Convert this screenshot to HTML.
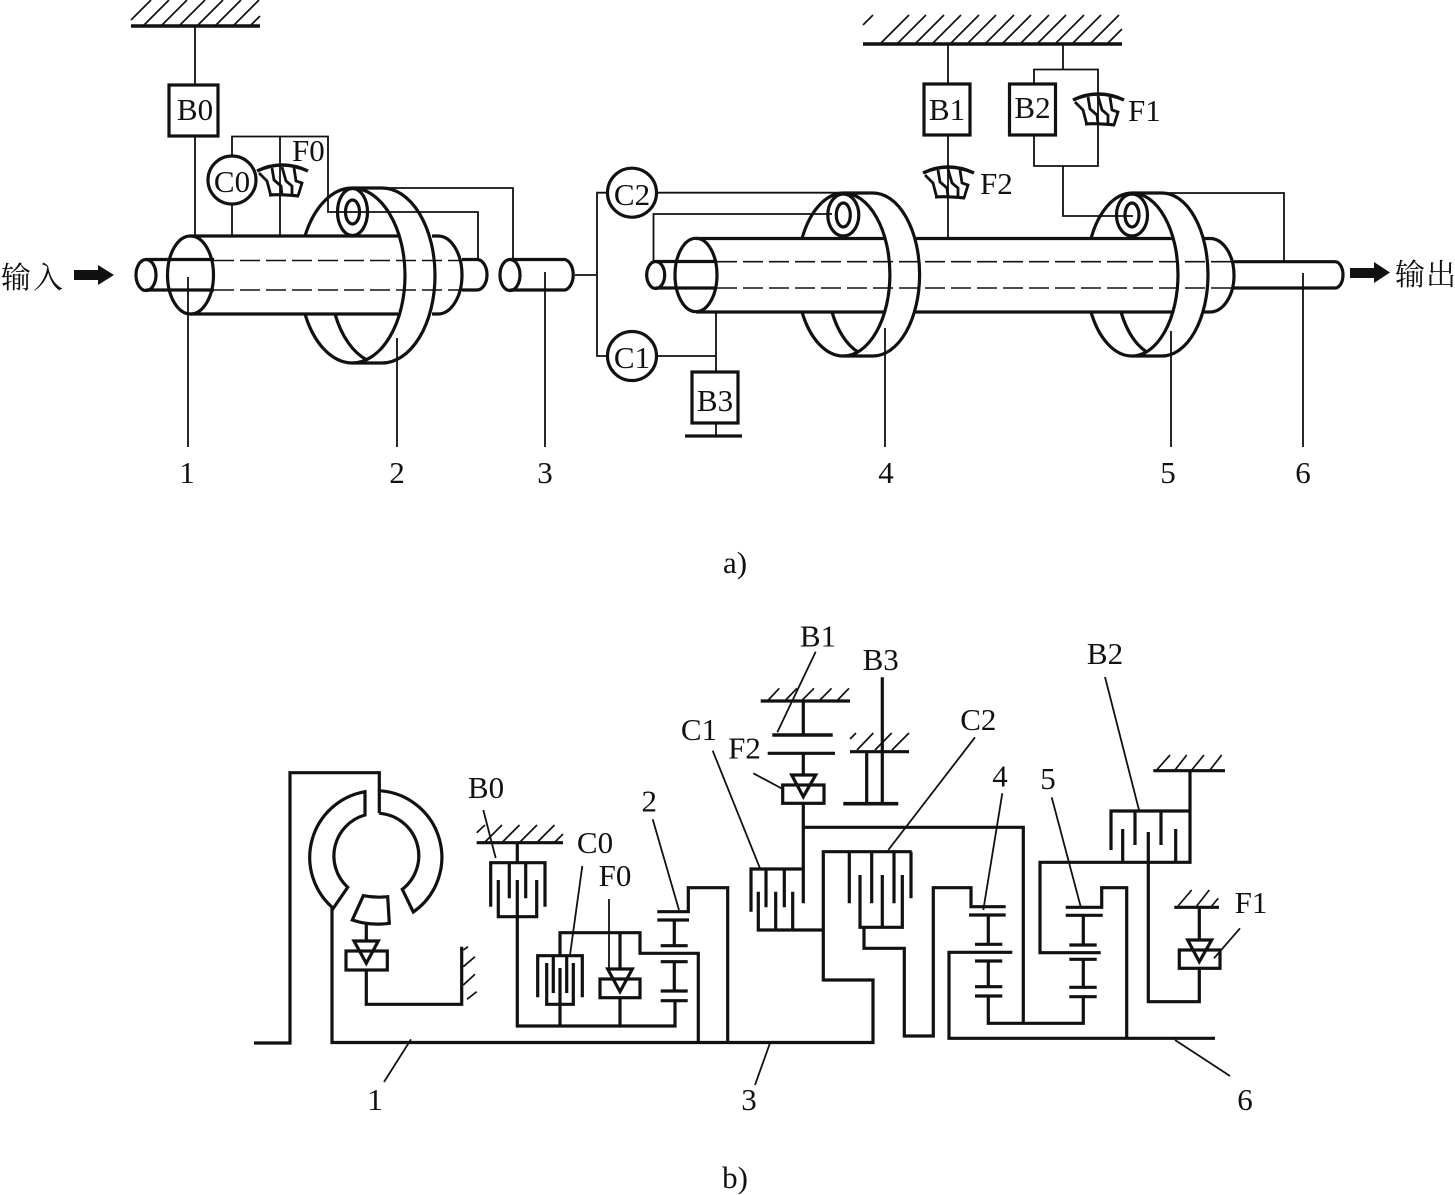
<!DOCTYPE html>
<html>
<head>
<meta charset="utf-8">
<style>
html,body{margin:0;padding:0;background:#fff;width:1455px;height:1195px;overflow:hidden}
svg{display:block}
text{font-family:"Liberation Serif","Noto Serif CJK SC",serif;font-size:31px;fill:#111}
.k{fill:none;stroke:#111;stroke-width:3.2}
.n{fill:none;stroke:#111;stroke-width:1.8}
.h{fill:none;stroke:#111;stroke-width:1.7}
.d{fill:none;stroke:#111;stroke-width:1.6;stroke-dasharray:20 6}
.b{fill:none;stroke:#111;stroke-width:3.6}
.m{fill:none;stroke:#111;stroke-width:3.2}
</style>
</head>
<body>
<svg width="1455" height="1195" viewBox="0 0 1455 1195" xmlns="http://www.w3.org/2000/svg">
<defs>
<g id="sp" fill="none" stroke="#111">
<path stroke-width="3.4" d="M-1 6Q24-6 50 6"/>
<path stroke-width="3.2" d="M11 30Q22 29 41 31"/>
<path stroke-width="2.8" d="M1 8L9 16L12.700 30M14 3L16 15L23 21L24 30M24 2L28 16L34 21L34 30M36 3L38 16L44 18L40 31"/>
</g>
</defs>

<!-- ===== a) ===== -->
<!-- top-left ground -->
<path class="b" d="M131 26H260"/>
<path class="h" d="M131 20L151 0M143 26L169 0M161 26L187 0M179 26L205 0M197 26L223 0M215 26L241 0M233 26L259 0M251 25L260 16"/>
<path class="n" d="M195 26V85M195 136V236"/>
<rect class="k" x="169" y="85" width="49" height="51"/>
<text x="195" y="120" text-anchor="middle">B0</text>

<path class="n" d="M232 236V204M232 156V136.500H328V212H478V259M280 136.500V236"/>
<circle class="k" cx="232" cy="180" r="24"/>
<text x="232" y="192" text-anchor="middle">C0</text>
<use href="#sp" x="258" y="165"/>
<text x="292" y="161">F0</text>

<!-- sleeve 1 -->
<ellipse class="k" cx="146" cy="275" rx="10" ry="15.500"/>
<path class="k" d="M146 259.500H214M146 290H214"/>
<ellipse class="k" cx="190.500" cy="275" rx="23" ry="39"/>
<path class="k" d="M190 236H398M190 314H398"/>
<path class="d" d="M214 260.500H462M214 290H462"/>
<path class="k" d="M432 236H438A24 39 0 0 1 438 314H432"/>
<path class="k" d="M462 259.500H477A10 15.250 0 0 1 477 290H462"/>
<!-- disc 1 -->
<path class="k" d="M352 188A53 87.500 0 0 1 352 363M352 188A53 87.500 0 0 0 305 236M305 314A53 87.500 0 0 0 352 363M382 188A53 87.500 0 0 1 382 363M335 314A53 87.500 0 0 0 367 360M352 188H382M352 363H382"/>
<ellipse class="k" cx="352.500" cy="212" rx="15" ry="23.500"/>
<ellipse class="k" cx="352.500" cy="212" rx="7" ry="12"/>
<path class="n" d="M382 188H513V259"/>

<!-- shaft 3 -->
<ellipse class="k" cx="510" cy="275" rx="10" ry="15.500"/>
<path class="k" d="M510 259.500H565A10 15.500 0 0 1 565 290H510"/>
<path class="n" d="M575 275H597M608 192.700H597V356H608"/>
<circle class="k" cx="632" cy="192.700" r="24.500"/>
<text x="632" y="205" text-anchor="middle">C2</text>
<circle class="k" cx="632" cy="356" r="24.500"/>
<text x="632" y="368" text-anchor="middle">C1</text>

<!-- sleeve 2 -->
<ellipse class="k" cx="655.700" cy="275" rx="9" ry="13.500"/>
<path class="k" d="M655.700 261.500H717M655.700 288H717"/>
<ellipse class="k" cx="696" cy="275" rx="21" ry="36.700"/>
<path class="m" d="M696 238.500H885M696 312H885M915 238.500H1174M915 312H1174"/>
<path class="d" d="M717 261.700H1234M717 288H1234"/>
<path class="n" d="M656.500 192.700H875M653.500 262V214H832"/>
<!-- disc 4 -->
<path class="k" d="M843.300 193A46.600 81.500 0 0 1 843.300 356M843.300 193A46.600 81.500 0 0 0 802 238.500M802 312A46.600 81.500 0 0 0 843.300 356M873 193A46.600 81.500 0 0 1 873 356M832 312A46.600 81.500 0 0 0 858 352M843.300 193H873M843.300 356H873"/>
<ellipse class="k" cx="843.300" cy="215" rx="15.500" ry="21"/>
<ellipse class="k" cx="843.300" cy="215" rx="7" ry="12"/>

<!-- B3 -->
<path class="n" d="M716 312V372M656.700 356H716M716 423V436"/>
<rect class="k" x="692" y="372" width="46" height="51"/>
<text x="715" y="411" text-anchor="middle">B3</text>
<path class="k" d="M685 436H742"/>

<!-- right ground -->
<path class="b" d="M863 44H1122"/>
<path class="h" d="M863 25L873 15M881 43L909 15M898 43L926 15M916 43L944 15M933 43L961 15M951 43L979 15M968 43L996 15M986 43L1014 15M1003 43L1031 15M1021 43L1049 15M1038 43L1066 15M1056 43L1084 15M1073 43L1101 15M1091 43L1119 15M1108 43L1122 29"/>
<path class="n" d="M948 44V84M948 135V238.500M1063 44V69.500M1034 84V69.500H1098V166H1034V135M1063 166V216H1133"/>
<rect class="k" x="924" y="84" width="46" height="51"/>
<text x="947" y="120" text-anchor="middle">B1</text>
<rect class="k" x="1009.500" y="84" width="46" height="51"/>
<text x="1032.500" y="118" text-anchor="middle">B2</text>
<use href="#sp" x="924" y="167"/>
<text x="980" y="194">F2</text>
<use href="#sp" x="1074" y="94"/>
<text x="1128" y="121">F1</text>

<!-- disc 5 -->
<path class="k" d="M1132 193A46 81.500 0 0 1 1132 356M1132 193A46 81.500 0 0 0 1091 238.500M1091 312A46 81.500 0 0 0 1132 356M1162 193A46 81.500 0 0 1 1162 356M1121 312A46 81.500 0 0 0 1147 352M1132 193H1162M1132 356H1162"/>
<ellipse class="k" cx="1132" cy="215" rx="15.500" ry="21"/>
<ellipse class="k" cx="1132" cy="215" rx="7" ry="12"/>
<path class="k" d="M1204 238.500H1210A24 36.700 0 0 1 1210 312H1204"/>
<path class="m" d="M1234 261.700H1335A8 13.150 0 0 1 1335 288H1234"/>
<path class="n" d="M1162 193H1284V261.700"/>

<!-- leaders a -->
<path class="n" d="M188 277V447M397 338V447M545 272V447M885 328V447M1171 331V447M1303 273V447"/>
<text x="187" y="483" text-anchor="middle">1</text>
<text x="397" y="483" text-anchor="middle">2</text>
<text x="545" y="483" text-anchor="middle">3</text>
<text x="886" y="483" text-anchor="middle">4</text>
<text x="1168" y="483" text-anchor="middle">5</text>
<text x="1303" y="483" text-anchor="middle">6</text>

<!-- arrows -->
<polygon fill="#111" points="74,270 98,270 98,265 114,275 98,285 98,280 74,280"/>
<polygon fill="#111" points="1350,268 1374,268 1374,262 1390,272.500 1374,283 1374,278 1350,278"/>
<text x="1" y="288" style="font-size:30px;letter-spacing:2px">输入</text>
<text x="1395" y="285" style="font-size:30px;letter-spacing:1px">输出</text>
<text x="735" y="573" text-anchor="middle">a)</text>

<!-- ===== b) ===== -->
<!-- converter -->
<path class="k" d="M254 1043H290V772.700H379.300V813.300"/>
<path class="k" d="M379.300 790.700A66.700 66.700 0 0 1 413.300 912L402.300 889.300A42.500 42.500 0 0 0 379.300 813.300"/>
<path class="k" d="M365 791.700A66.700 66.700 0 0 0 333.300 908.300L347.700 887.300A42.500 42.500 0 0 1 365 815Z"/>
<path class="k" d="M332 908V1042.500H873V980H823.300V851.700H911.700"/>
<path class="k" d="M363.300 895.700Q376 898 387.700 896.700L389.300 923.300Q370 926 352.300 920Z"/>
<path class="k" d="M366.300 923V941"/>
<path class="k" d="M354 941H378.300L366.300 963.300Z"/>
<rect class="k" x="346" y="951" width="41.300" height="19"/>
<path class="k" d="M366.300 970V1004.300H461.700V946.700"/>
<path class="h" d="M463.300 950L468 946.700M463.300 966.700L475 956.700M463.300 985L475 974.300M467 999.300L476.700 991.700"/>

<!-- B0 -->
<path class="k" d="M476.700 842.700H563"/>
<path class="h" d="M476.700 832.700L485 825M485 842L502 825M502.500 842L519.500 825M520 842L537 825M537.500 842L554.500 825M555 842L563 834"/>
<path class="k" d="M517.300 842.700V862.700M490.700 906.700V862.700H545V906.700M509.300 862.700V898.300M525.700 862.700V898.300M498.300 880V916.700H536.700V880M517.300 880V1026H675V1000.700"/>
<path class="n" d="M483.300 810L495.700 858"/>
<text x="486" y="798" text-anchor="middle">B0</text>

<!-- C0 -->
<path class="k" d="M537.700 997.300V955.700H582.300V997.300M553.300 955.700V993M566.700 955.700V993M546.700 963V1004.300H573.300V963M560 968V1004.300M560 1004.300V1026M560 955.700V932.700H640V953.300H698.300V1042"/>
<path class="k" d="M620 932.700V969M620 997.700V1026"/>
<path class="k" d="M607.700 969H632.300L620 991.700Z"/>
<rect class="k" x="600" y="979" width="40" height="18.700"/>
<path class="n" d="M609 899V968M582.300 866L570 955"/>
<text x="595" y="853" text-anchor="middle">C0</text>
<text x="615" y="886" text-anchor="middle">F0</text>

<!-- gearset 2 -->
<path class="k" d="M657.300 911.700H688.300V887.700H727.700V1042M657.300 920H689M674.300 920V945.700M660.700 945.700H687.700M660.700 961.700H687.700M674.300 961.700V991M660.700 991H687.700M660.700 1000.700H687.700"/>
<path class="n" d="M652.700 819.300L679 910"/>
<text x="649.300" y="811.700" text-anchor="middle">2</text>

<!-- B1 F2 -->
<path class="k" d="M760.700 701H850"/>
<path class="h" d="M768.300 700L779.300 688.300M785.700 700L797 688.300M802.300 700L814 688.300M820 700L831.500 688.300M837.700 700L849 688.300"/>
<path class="k" d="M803.300 701V735M803.300 753.300V775"/>
<path class="b" d="M772.300 735H832.700"/>
<path class="k" d="M767.700 753.300H835"/>
<path class="k" d="M791.700 775H815.700L803.300 796.700Z"/>
<rect class="k" x="782.700" y="785" width="41.300" height="18.300"/>
<path class="k" d="M803.300 803.300V903.300M803.300 827.300H1023.300V1023.300"/>
<path class="n" d="M815.700 651.700L777.300 732.300M753.300 773.300L782.700 789"/>
<text x="818" y="646.700" text-anchor="middle">B1</text>
<text x="744.500" y="758.300" text-anchor="middle">F2</text>

<!-- B3 -->
<path class="k" d="M850 751.700H909"/>
<path class="h" d="M850 739L856 733M857 750L873.300 733M875 750L891.700 733M892 750L909 733"/>
<path class="k" d="M882.300 677.300V803.300M866.700 751.700V803.300"/>
<path class="b" d="M843.300 803.700H898.300"/>
<text x="880.700" y="670" text-anchor="middle">B3</text>

<!-- C1 -->
<path class="k" d="M751 911.700V869H803.300M766 869V907.300M784.300 869V907.300M758.300 891.700V930H823.300M775.700 891.700V930M792.700 891.700V930"/>
<path class="n" d="M712.700 750.700L760 868.300"/>
<text x="699" y="740" text-anchor="middle">C1</text>

<!-- C2 -->
<path class="k" d="M849.300 851.700V903.300M871.700 851.700V903.300M894 851.700V903.300M911 851.700V898.300M860 875V927.300H902.300V875M882.300 875V927.300M864 927.300V948.300H904.300V1036H933.300V887.700H971V906.700H1005.700M969 915H1005.700M988.300 915V944.300M975 944.300H1002.300M1012.300 952.300H949V1038.300H1215M975 961H1002.300M988.300 961V986.700M975 986.700H1002.300M975 996H1002.300M988.300 996V1023.300H1083.300V996.700"/>
<path class="n" d="M975 737.300L888.300 850M1002.300 793.300L983.300 910"/>
<text x="978.300" y="730" text-anchor="middle">C2</text>
<text x="1000" y="786.700" text-anchor="middle">4</text>

<!-- gearset 5 -->
<path class="k" d="M1065.700 907.300H1101.700V887.700H1126.700V1038M1065.700 915.300H1102.700M1083.300 915.300V945M1069.300 945H1096.700M1100.700 952.700H1040V862.300H1190V770.700M1069.300 959.300H1096.700M1083.300 959.300V987.300M1069.300 987.300H1096.700M1069.300 996.700H1096.700"/>
<path class="n" d="M1051.700 797.300L1080.700 906.700"/>
<text x="1048" y="789" text-anchor="middle">5</text>

<!-- B2 -->
<path class="k" d="M1153.300 770.700H1225"/>
<path class="h" d="M1156.700 770L1170 755M1175 770L1186.700 755M1191.700 770L1204 755M1210 770L1221.700 755"/>
<path class="k" d="M1111 850V811H1190M1135 811V845M1161 811V845M1122.700 829V862.300M1148.300 832V1001.700H1199.300V968M1175.700 829V862.300"/>
<path class="n" d="M1105 677L1139 810"/>
<text x="1105" y="664" text-anchor="middle">B2</text>

<!-- F1 -->
<path class="k" d="M1174.300 907.300H1219M1199.300 907.300V940"/>
<path class="h" d="M1178 906L1191.700 890M1196.700 906L1209.300 890M1211.700 906L1218.300 898.300"/>
<path class="k" d="M1187.700 940H1211.700L1199.300 961.700Z"/>
<rect class="k" x="1179.300" y="950" width="40.700" height="18.300"/>
<path class="n" d="M1240 928.300L1214 958.300"/>
<text x="1251" y="913" text-anchor="middle">F1</text>

<!-- leaders b -->
<path class="n" d="M411 1039.300L384 1082M770 1043L755 1085M1175 1040L1230 1076"/>
<text x="375" y="1110" text-anchor="middle">1</text>
<text x="749" y="1110" text-anchor="middle">3</text>
<text x="1245" y="1110" text-anchor="middle">6</text>
<text x="735" y="1188" text-anchor="middle">b)</text>
</svg>
</body>
</html>
